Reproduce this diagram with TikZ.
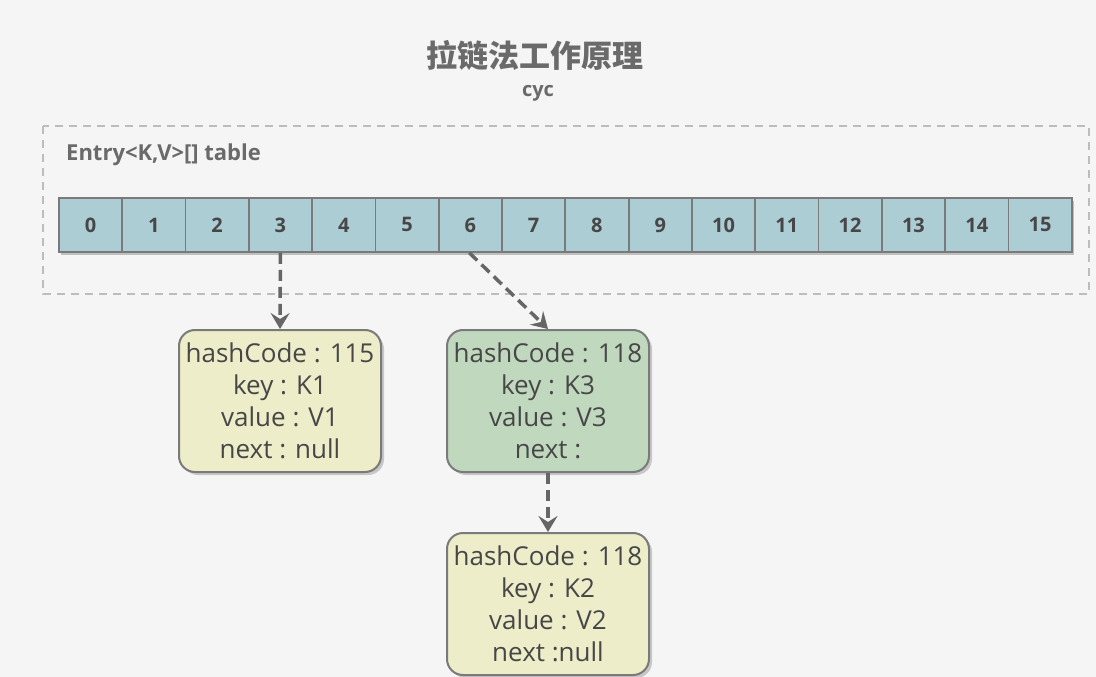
\documentclass[tikz,border=0pt]{standalone}
\usepackage{fontspec}
\setmainfont{Open Sans}
\newfontfamily\cjk{Noto Sans CJK SC}
\usetikzlibrary{shadows,arrows.meta}
\definecolor{bg}{HTML}{F5F5F5}
\definecolor{txt}{HTML}{474747}
\definecolor{ttl}{HTML}{6A6A6A}
\definecolor{cellfill}{HTML}{ADCDD4}
\definecolor{edge}{HTML}{7A7A7A}
\definecolor{yel}{HTML}{EDEDCA}
\definecolor{grn}{HTML}{C0D8BE}
\definecolor{arr}{HTML}{666666}
\definecolor{frame}{HTML}{BDBDBD}
\tikzset{
  cellbox/.style={draw=edge, line width=1.8pt, fill=cellfill, minimum width=63.3pt, minimum height=54pt, inner sep=0pt, anchor=north west, font=\fontsize{20}{22}\selectfont\bfseries, text=txt,
    drop shadow={shadow xshift=2.5pt, shadow yshift=-3pt, fill=black!25, opacity=1}},
  entrybox/.style={draw=edge, line width=2pt, rounded corners=16pt, minimum width=202pt, minimum height=142pt, inner sep=0pt, anchor=north west, align=center, font=\fontsize{26}{32}\selectfont, text=txt,
    drop shadow={shadow xshift=3pt, shadow yshift=-3pt, fill=black!22, opacity=1}},
  link/.style={draw=arr, line width=3.5pt, dash pattern=on 11pt off 6pt, -{Stealth[length=16pt,width=19pt,inset=6pt]}},
}
\begin{document}
\begin{tikzpicture}[x=1pt,y=-1pt]
\fill[bg] (0,0) rectangle (1096,677);
\useasboundingbox (0,0) rectangle (1096,677);
\node[font=\cjk\fontsize{31}{34}\selectfont\bfseries, text=ttl] (title) at (535,55) {拉链法工作原理};
\node[font=\fontsize{20}{24}\selectfont\bfseries, text=ttl] (author) at (538,93) {cyc};
\draw[frame, line width=1.8pt, dash pattern=on 8pt off 6pt] (43,126) rectangle (1089,294);
\node[font=\fontsize{22}{24}\selectfont\bfseries, text=ttl, anchor=west, inner sep=0pt] (label) at (66,155) {Entry<K,V>[] table};
\foreach \i in {0,...,15}{
  \node[cellbox] (c\i) at ({58+63.3*\i},197) {\i};
}
\node[entrybox, fill=yel] (e1) at (178,329) {hashCode : 115\\key : K1\\value : V1\\next : null};
\node[entrybox, fill=grn] (e3) at (446,329) {hashCode : 118\\key : K3\\value : V3\\next : };
\node[entrybox, fill=yel] (e2) at (446,532) {hashCode : 118\\key : K2\\value : V2\\next :null};
\draw[link] (c3.south) -- (e1.north);
\draw[link] ([xshift=-1pt]c6.south) -- (e3.north);
\draw[link] (e3.south) -- (e2.north);
\end{tikzpicture}
\end{document}
